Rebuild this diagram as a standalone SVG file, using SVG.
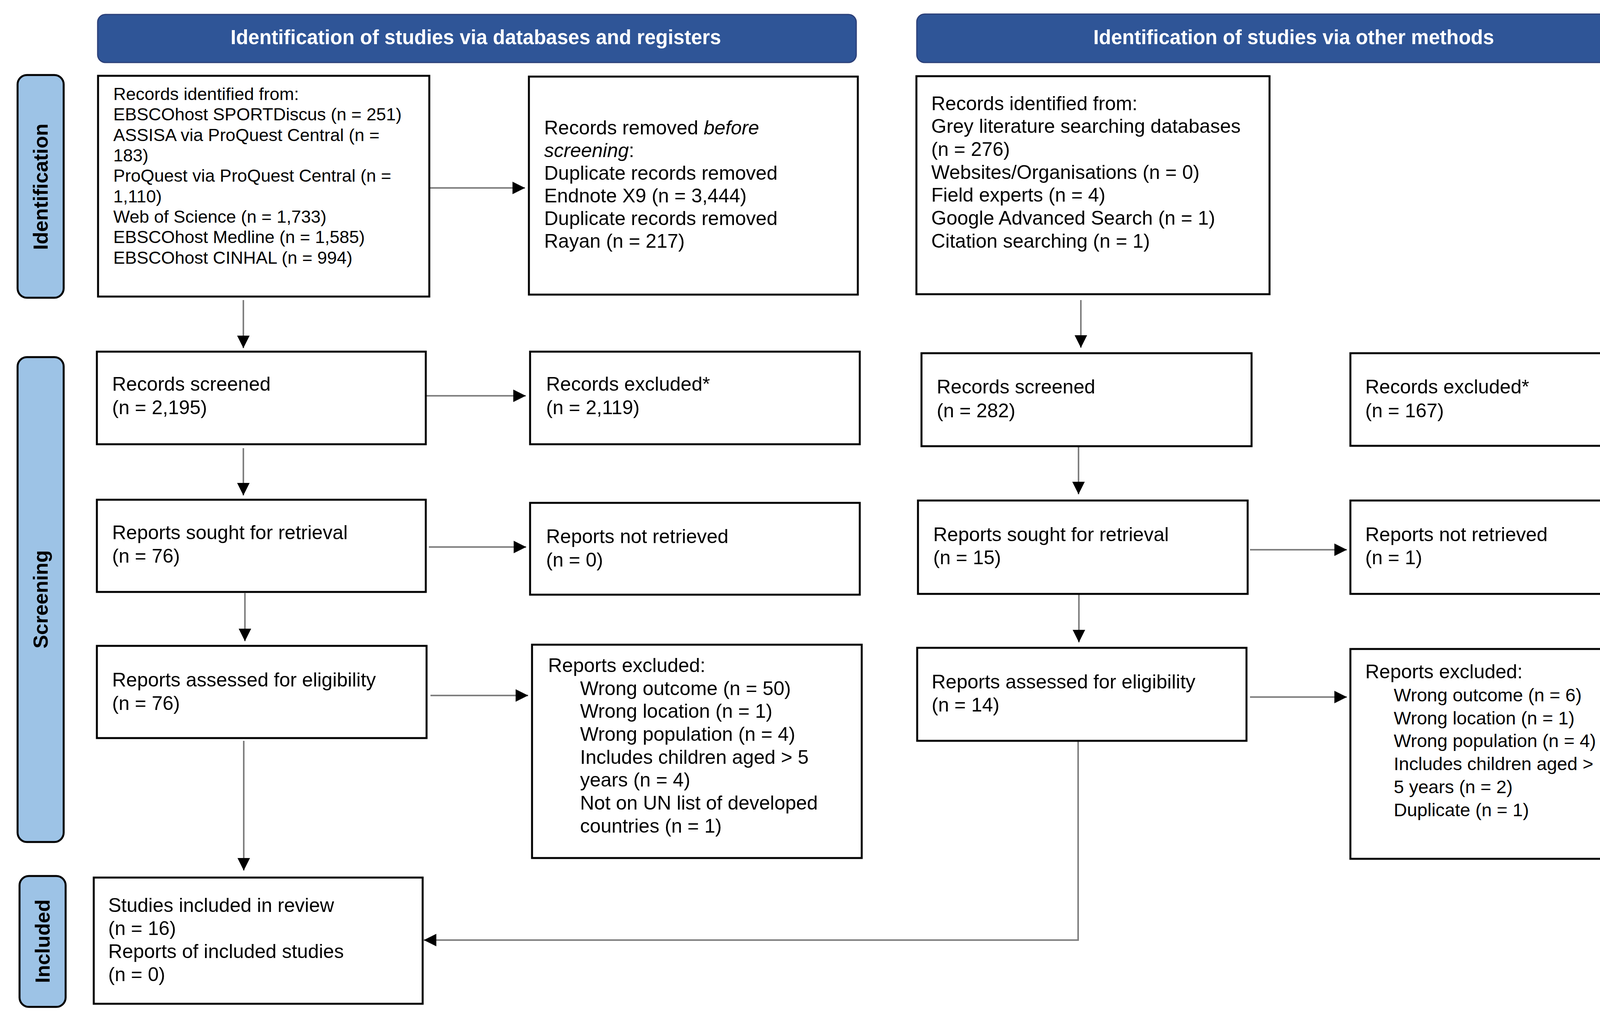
<svg xmlns="http://www.w3.org/2000/svg" width="4262" height="2608" viewBox="0 0 4262 2608">
<style>
.hdr{fill:#2F5597;stroke:#2B3F78;stroke-width:3}
.htxt{font-family:"Liberation Sans",Arial,sans-serif;font-weight:bold;font-size:51px;fill:#FFFFFF;text-anchor:middle}
.side{fill:#9DC3E6;stroke:#000;stroke-width:5}
.stxt{font-family:"Liberation Sans",Arial,sans-serif;font-weight:bold;font-size:52px;fill:#000;text-anchor:middle}
.box{fill:#FFFFFF;stroke:#000;stroke-width:5}
.t{font-family:"Liberation Sans",Arial,sans-serif;font-size:50px;fill:#000}
.tn{font-family:"Liberation Sans",Arial,sans-serif;font-size:47px;fill:#000}
.ts{font-family:"Liberation Sans",Arial,sans-serif;font-size:45px;fill:#000}
.con{fill:none;stroke:#7F7F7F;stroke-width:4;marker-end:url(#ah)}
</style>
<defs>
<marker id="ah" markerUnits="userSpaceOnUse" markerWidth="32" markerHeight="32" refX="32" refY="16" orient="auto">
<path d="M0,0 L32,16 L0,32 Z" fill="#000"/>
</marker>
</defs>
<rect width="4262" height="2608" fill="#FFFFFF"/>

<g id="header-databases">
<rect class="hdr" x="250" y="37" width="1942" height="123" rx="20"/>
<text class="htxt" x="1218" y="113">Identification of studies via databases and registers</text>
</g>
<g id="header-other">
<path class="hdr" d="M2367,36 H4233 V160 H2367 A20,20 0 0 1 2347,140 V56 A20,20 0 0 1 2367,36 Z"/>
<text class="htxt" x="3312" y="113">Identification of studies via other methods</text>
</g>

<g id="side-identification">
<rect class="side" x="45" y="192" width="118" height="570" rx="24"/>
<text class="stxt" transform="translate(104,478) rotate(-90)" y="18">Identification</text>
</g>
<g id="side-screening">
<rect class="side" x="45" y="914" width="118" height="1241" rx="24"/>
<text class="stxt" transform="translate(104,1534) rotate(-90)" y="18">Screening</text>
</g>
<g id="side-included">
<rect class="side" x="50" y="2242" width="118" height="335" rx="24"/>
<text class="stxt" transform="translate(109,2409) rotate(-90)" y="18">Included</text>
</g>

<g id="connectors">
<path class="con" d="M623,768 V891"/>
<path class="con" d="M623,1147 V1268"/>
<path class="con" d="M627,1518 V1641"/>
<path class="con" d="M624,1896 V2228"/>
<path class="con" d="M1099,481 H1344"/>
<path class="con" d="M1090,1013 H1346"/>
<path class="con" d="M1098,1400 H1347"/>
<path class="con" d="M1102,1780 H1352"/>
<path class="con" d="M2767,768 V890"/>
<path class="con" d="M2761,1143 V1265"/>
<path class="con" d="M2762,1520 V1644"/>
<path class="con" d="M3200,1407 H3448"/>
<path class="con" d="M3200,1784 H3448"/>
<path class="con" d="M2760,1896 V2406 H1085"/>
</g>

<g id="box-records-identified-db">
<rect class="box" x="251" y="194" width="848" height="565"/>
<text class="ts" x="290" y="256">Records identified from:</text>
<text class="ts" x="290" y="308">EBSCOhost SPORTDiscus (n = 251)</text>
<text class="ts" x="290" y="361">ASSISA via ProQuest Central (n =</text>
<text class="ts" x="290" y="413">183)</text>
<text class="ts" x="290" y="465">ProQuest via ProQuest Central (n =</text>
<text class="ts" x="290" y="518">1,110)</text>
<text class="ts" x="290" y="570">Web of Science (n = 1,733)</text>
<text class="ts" x="290" y="622">EBSCOhost Medline (n = 1,585)</text>
<text class="ts" x="290" y="675">EBSCOhost CINHAL (n = 994)</text>
</g>

<g id="box-records-removed">
<rect class="box" x="1354" y="196" width="842" height="558"/>
<text class="t" x="1393" y="344">Records removed <tspan font-style="italic">before</tspan></text>
<text class="t" x="1393" y="402"><tspan font-style="italic">screening</tspan>:</text>
<text class="t" x="1393" y="460">Duplicate records removed</text>
<text class="t" x="1393" y="518">Endnote X9 (n = 3,444)</text>
<text class="t" x="1393" y="576">Duplicate records removed</text>
<text class="t" x="1393" y="634">Rayan (n = 217)</text>
</g>

<g id="box-records-identified-other">
<rect class="box" x="2346" y="195" width="904" height="558"/>
<text class="t" x="2384" y="282">Records identified from:</text>
<text class="t" x="2384" y="340">Grey literature searching databases</text>
<text class="t" x="2384" y="399">(n = 276)</text>
<text class="t" x="2384" y="458">Websites/Organisations (n = 0)</text>
<text class="t" x="2384" y="516">Field experts (n = 4)</text>
<text class="t" x="2384" y="575">Google Advanced Search (n = 1)</text>
<text class="t" x="2384" y="634">Citation searching (n = 1)</text>
</g>

<g id="box-records-screened-db">
<rect class="box" x="248" y="900" width="842" height="237"/>
<text class="t" x="287" y="1000">Records screened</text>
<text class="t" x="287" y="1060">(n = 2,195)</text>
</g>
<g id="box-records-excluded-db">
<rect class="box" x="1357" y="900" width="844" height="237"/>
<text class="t" x="1398" y="1000">Records excluded*</text>
<text class="t" x="1398" y="1060">(n = 2,119)</text>
</g>
<g id="box-reports-sought-db">
<rect class="box" x="248" y="1279" width="842" height="236"/>
<text class="t" x="287" y="1380">Reports sought for retrieval</text>
<text class="t" x="287" y="1440">(n = 76)</text>
</g>
<g id="box-reports-not-retrieved-db">
<rect class="box" x="1357" y="1287" width="844" height="235"/>
<text class="t" x="1398" y="1390">Reports not retrieved</text>
<text class="t" x="1398" y="1450">(n = 0)</text>
</g>
<g id="box-reports-assessed-db">
<rect class="box" x="248" y="1653" width="844" height="236"/>
<text class="t" x="287" y="1757">Reports assessed for eligibility</text>
<text class="t" x="287" y="1817">(n = 76)</text>
</g>
<g id="box-reports-excluded-db">
<rect class="box" x="1362" y="1650" width="844" height="546"/>
<text class="t" x="1403" y="1720">Reports excluded:</text>
<text class="t" x="1485" y="1779">Wrong outcome (n = 50)</text>
<text class="t" x="1485" y="1837">Wrong location (n = 1)</text>
<text class="t" x="1485" y="1896">Wrong population (n = 4)</text>
<text class="t" x="1485" y="1955">Includes children aged &gt; 5</text>
<text class="t" x="1485" y="2013">years (n = 4)</text>
<text class="t" x="1485" y="2072">Not on UN list of developed</text>
<text class="t" x="1485" y="2131">countries (n = 1)</text>
</g>
<g id="box-studies-included">
<rect class="box" x="240" y="2246" width="842" height="323"/>
<text class="t" x="277" y="2334">Studies included in review</text>
<text class="t" x="277" y="2393">(n = 16)</text>
<text class="t" x="277" y="2452">Reports of included studies</text>
<text class="t" x="277" y="2511">(n = 0)</text>
</g>

<g id="box-records-screened-other">
<rect class="box" x="2359" y="904" width="845" height="238"/>
<text class="t" x="2398" y="1007">Records screened</text>
<text class="t" x="2398" y="1068">(n = 282)</text>
</g>
<g id="box-records-excluded-other">
<rect class="box" x="3457" y="904" width="761" height="237"/>
<text class="t" x="3495" y="1007">Records excluded*</text>
<text class="t" x="3495" y="1068">(n = 167)</text>
</g>
<g id="box-reports-sought-other">
<rect class="box" x="2350" y="1281" width="844" height="239"/>
<text class="t" x="2389" y="1385">Reports sought for retrieval</text>
<text class="t" x="2389" y="1444">(n = 15)</text>
</g>
<g id="box-reports-not-retrieved-other">
<rect class="box" x="3457" y="1281" width="761" height="239"/>
<text class="t" x="3495" y="1385">Reports not retrieved</text>
<text class="t" x="3495" y="1444">(n = 1)</text>
</g>
<g id="box-reports-assessed-other">
<rect class="box" x="2348" y="1658" width="843" height="238"/>
<text class="t" x="2385" y="1762">Reports assessed for eligibility</text>
<text class="t" x="2385" y="1821">(n = 14)</text>
</g>
<g id="box-reports-excluded-other">
<rect class="box" x="3457" y="1661" width="761" height="537"/>
<text class="t" x="3495" y="1736">Reports excluded:</text>
<text class="tn" x="3568" y="1795">Wrong outcome (n = 6)</text>
<text class="tn" x="3568" y="1854">Wrong location (n = 1)</text>
<text class="tn" x="3568" y="1912">Wrong population (n = 4)</text>
<text class="tn" x="3568" y="1971">Includes children aged &gt;</text>
<text class="tn" x="3568" y="2030">5 years (n = 2)</text>
<text class="tn" x="3568" y="2089">Duplicate (n = 1)</text>
</g>
</svg>
